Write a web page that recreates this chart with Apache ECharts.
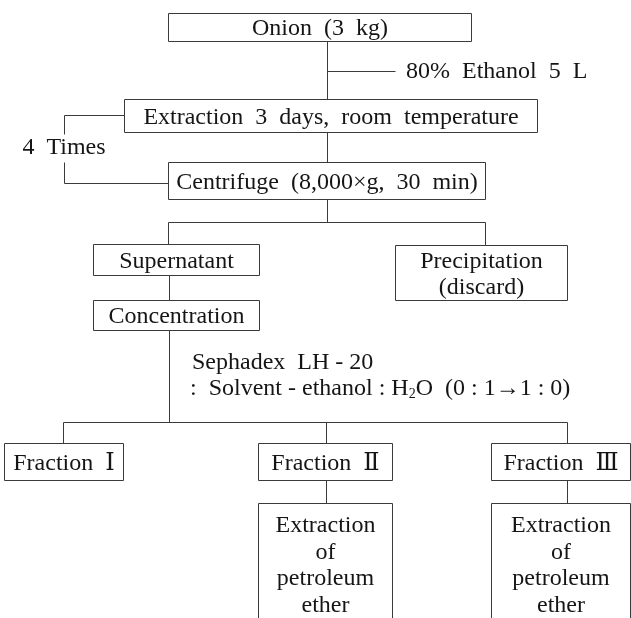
<!DOCTYPE html>
<html><head><meta charset="utf-8">
<script src="https://cdn.jsdelivr.net/npm/echarts@6/dist/echarts.min.js"></script>
<style>html,body{margin:0;padding:0;background:#fff}#c{width:631px;height:618px}</style>
</head><body><div id="c"></div>
<script>
// ---- flowchart content ----
const boxLabels = [
  'Onion  (3  kg)',
  'Extraction  3  days,  room  temperature',
  'Centrifuge  (8,000×g,  30  min)',
  'Supernatant',
  'Precipitation\n(discard)',
  'Concentration',
  'Fraction  Ⅰ',
  'Fraction  Ⅱ',
  'Fraction  Ⅲ',
  'Extraction\nof\npetroleum\nether',
  'Extraction\nof\npetroleum\nether'
];
// box layout in diagram units (left, top, right, bottom)
const boxLeft   = [168, 124, 168,  93, 395,  93,   4, 258, 491, 258, 491];
const boxTop    = [ 13,  99, 162, 244, 245, 300, 443, 443, 443, 503, 503];
const boxRight  = [471, 537, 485, 259, 567, 259, 123, 392, 630, 392, 630];
const boxBottom = [ 41, 132, 199, 275, 300, 330, 480, 480, 480, 640, 640];

// connector polylines in diagram units
const connectors = [
  [[327, 41], [327, 99]],
  [[327, 71], [395, 71]],
  [[327, 132], [327, 162]],
  [[124, 115], [64, 115], [64, 134]],
  [[64, 162], [64, 183], [168, 183]],
  [[327, 199], [327, 222]],
  [[168, 244], [168, 222], [485, 222], [485, 245]],
  [[169, 275], [169, 300]],
  [[169, 330], [169, 422]],
  [[63, 443], [63, 422], [567, 422], [567, 443]],
  [[326, 422], [326, 443]],
  [[326, 480], [326, 503]],
  [[567, 480], [567, 503]]
];

// free annotations
const noteTexts = ['80%  Ethanol  5  L', '4  Times', 'Sephadex  LH - 20', ':  Solvent - ethanol : H{sub|2}O  (0 : 1→1 : 0)'];
const noteX     = [406, 64, 192, 190];
const noteY     = [72, 148, 363, 389];
const noteAlign = ['left', 'center', 'left', 'left'];

const FONT = "'Liberation Serif','DejaVu Serif',serif";
const LINE = '#3a3a3a';
const TXT = '#151515';
const crisp = v => Math.round(v) + 0.5;

const chart = echarts.init(document.getElementById('c'), null, {renderer: 'canvas'});

const option = {
  animation: false,
  backgroundColor: '#ffffff',
  grid: {left: 0, right: 0, top: 0, bottom: 0},
  xAxis: {type: 'value', min: 0, max: 631, show: false},
  yAxis: {type: 'value', min: 0, max: 618, inverse: true, show: false},
  series: [
    {
      type: 'custom',
      name: 'connectors',
      coordinateSystem: 'cartesian2d',
      data: connectors.map((c, i) => [c[0][0], c[0][1], i]),
      encode: {x: 0, y: 1},
      renderItem: function (params, api) {
        const pts = connectors[api.value(2)].map(p => {
          const q = api.coord(p);
          return [crisp(q[0]), crisp(q[1])];
        });
        return {
          type: 'polyline',
          shape: {points: pts},
          style: {stroke: LINE, lineWidth: 1, fill: null}
        };
      }
    },
    {
      type: 'custom',
      name: 'boxes',
      coordinateSystem: 'cartesian2d',
      data: boxLabels.map((l, i) => [boxLeft[i], boxTop[i], boxRight[i], boxBottom[i], i]),
      encode: {x: [0, 2], y: [1, 3]},
      renderItem: function (params, api) {
        const i = api.value(4);
        const p0 = api.coord([api.value(0), api.value(1)]);
        const p1 = api.coord([api.value(2), api.value(3)]);
        const x0 = crisp(p0[0]), y0 = crisp(p0[1]);
        const w = Math.round(p1[0] - p0[0]), h = Math.round(p1[1] - p0[1]);
        const tall = h > 100;
        return {
          type: 'group',
          children: [
            {type: 'rect', shape: {x: x0, y: y0, width: w, height: h},
             style: {fill: '#fff', stroke: LINE, lineWidth: 1}},
            {type: 'text',
             x: x0 + w / 2,
             y: tall ? y0 + 9 : y0 + h / 2 + 1.5,
             style: {text: boxLabels[i], fill: TXT, fontFamily: FONT, fontSize: 24,
                     lineHeight: 26.5, align: 'center',
                     verticalAlign: tall ? 'top' : 'middle'}}
          ]
        };
      }
    },
    {
      type: 'custom',
      name: 'notes',
      coordinateSystem: 'cartesian2d',
      data: noteTexts.map((t, i) => [noteX[i], noteY[i], i]),
      encode: {x: 0, y: 1},
      renderItem: function (params, api) {
        const i = api.value(2);
        const p = api.coord([api.value(0), api.value(1)]);
        return {
          type: 'text',
          x: p[0], y: p[1],
          style: {text: noteTexts[i], fill: TXT, fontFamily: FONT, fontSize: 24,
                  align: noteAlign[i], verticalAlign: 'middle',
                  rich: {sub: {fontFamily: FONT, fontSize: 14, fill: TXT, verticalAlign: 'bottom', padding: [10, 0, 0, 0]}}}
        };
      }
    }
  ]
};
chart.setOption(option);
</script>
</body></html>
